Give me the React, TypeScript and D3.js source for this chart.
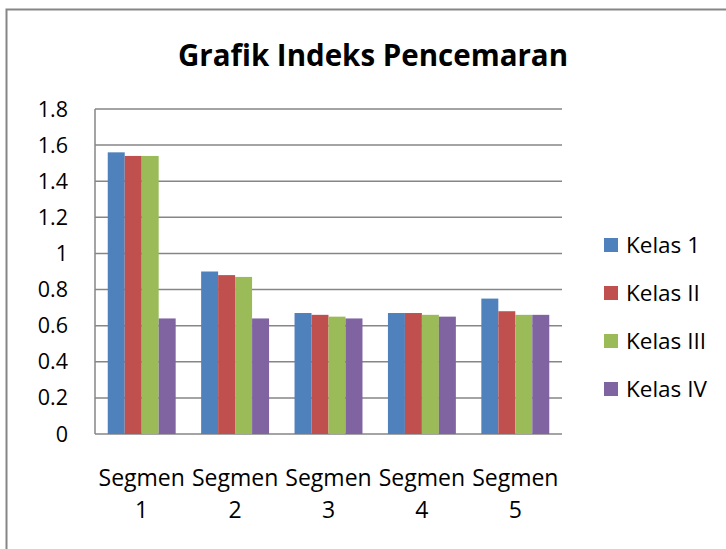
import React from 'react';
import * as d3 from 'd3';

const segments = ['Segmen 1', 'Segmen 2', 'Segmen 3', 'Segmen 4', 'Segmen 5'];
const seriesNames = ['Kelas 1', 'Kelas II', 'Kelas III', 'Kelas IV'];
const kelas1 = [1.56, 0.9, 0.67, 0.67, 0.75];
const kelas2 = [1.54, 0.88, 0.66, 0.67, 0.68];
const kelas3 = [1.54, 0.87, 0.65, 0.66, 0.66];
const kelas4 = [0.64, 0.64, 0.64, 0.65, 0.66];
const yTicks = [0, 0.2, 0.4, 0.6, 0.8, 1, 1.2, 1.4, 1.6, 1.8];
const colors = ['#4F81BD', '#C0504D', '#9BBB59', '#8064A2'];

const W = 726;
const H = 549;
const FONT = '"Open Sans", sans-serif';

export default function App() {
  const values = [kelas1, kelas2, kelas3, kelas4];

  // plot area
  const left = 95;
  const right = 562;
  const top = 109;
  const bottom = 434;

  const x0 = d3.scaleBand<string>().domain(segments).range([left, right]).paddingInner(0).paddingOuter(0);
  const x1 = d3
    .scaleBand<string>()
    .domain(seriesNames)
    .range([0, x0.bandwidth()])
    .paddingInner(0)
    .paddingOuter(0.75);
  const y = d3.scaleLinear().domain([0, 1.8]).range([bottom, top]);

  return (
    <svg
      width={W}
      height={H}
      style={{ position: 'absolute', left: 0, top: 0, background: '#fff' }}
      fontFamily={FONT}
    >
      {/* outer chart frame, runs off the right and bottom edges */}
      <rect x={6.5} y={9.5} width={760} height={580} fill="#fff" stroke="#868686" strokeWidth={2} />

      <text x={373} y={66} textAnchor="middle" fontSize={29.5} fontWeight="bold" fill="#000">
        Grafik Indeks Pencemaran
      </text>

      {/* gridlines */}
      {yTicks.map((t) => (
        <line key={t} x1={left} x2={right} y1={y(t)} y2={y(t)} stroke="#868686" strokeWidth={1.5} />
      ))}
      <line x1={left} x2={left} y1={top} y2={bottom} stroke="#868686" strokeWidth={1.5} />

      {/* y tick labels */}
      {yTicks.map((t) => (
        <text key={'l' + t} x={68} y={y(t)} dy="0.35em" textAnchor="end" fontSize={21.5} fill="#000">
          {t}
        </text>
      ))}

      {/* bars */}
      {segments.map((s, i) => (
        <g key={s} transform={`translate(${x0(s)},0)`}>
          {seriesNames.map((k, j) => (
            <rect
              key={k}
              x={x1(k)}
              y={y(values[j][i])}
              width={x1.bandwidth()}
              height={bottom - y(values[j][i])}
              fill={colors[j]}
            />
          ))}
        </g>
      ))}

      {/* category labels */}
      {segments.map((s) => {
        const cx = (x0(s) as number) + x0.bandwidth() / 2;
        const parts = s.split(' ');
        return (
          <text key={'c' + s} x={cx} textAnchor="middle" fontSize={23} fill="#000">
            <tspan x={cx} y={486}>{parts[0]}</tspan>
            <tspan x={cx} y={518}>{parts[1]}</tspan>
          </text>
        );
      })}

      {/* legend */}
      {seriesNames.map((k, j) => (
        <g key={'lg' + k} transform={`translate(604,${245 + j * 48})`}>
          <rect x={0} y={-7} width={14} height={14} fill={colors[j]} />
          <text x={22} y={0} dy="0.35em" fontSize={22.5} fill="#000">
            {k}
          </text>
        </g>
      ))}
    </svg>
  );
}
